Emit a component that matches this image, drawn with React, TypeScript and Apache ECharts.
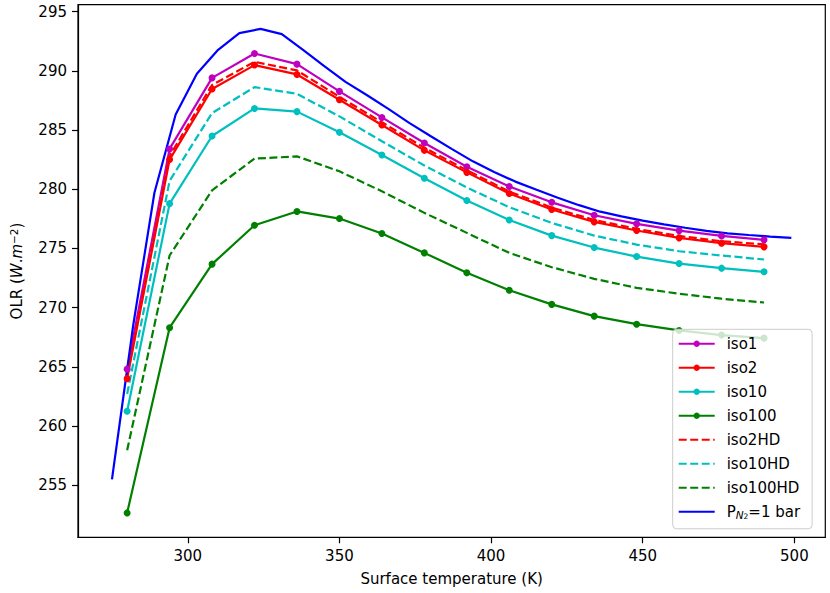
import React, { useEffect, useRef } from "react";
import * as echarts from "echarts";

const isoTemps = [280, 294, 308, 322, 336, 350, 364, 378, 392, 406, 420, 434, 448, 462, 476, 490];
const iso1 = [264.8, 283.4, 289.4, 291.46, 290.56, 288.26, 286.06, 283.9, 281.9, 280.22, 278.89, 277.8, 277.07, 276.5, 276.05, 275.72];
const iso2 = [264.0, 282.5, 288.46, 290.48, 289.69, 287.55, 285.42, 283.28, 281.42, 279.63, 278.28, 277.24, 276.51, 275.89, 275.44, 275.13];
const iso10 = [261.25, 278.78, 284.49, 286.82, 286.55, 284.8, 282.89, 280.92, 279.04, 277.4, 276.08, 275.07, 274.31, 273.72, 273.33, 273.02];
const iso100 = [252.66, 268.3, 273.67, 276.95, 278.12, 277.52, 276.25, 274.62, 272.94, 271.47, 270.27, 269.28, 268.6, 268.07, 267.68, 267.42];
const iso2HD = [264.3, 282.8, 288.8, 290.76, 290.03, 287.8, 285.65, 283.5, 281.6, 279.8, 278.45, 277.4, 276.65, 276.05, 275.6, 275.35];
const iso10HD = [262.7, 280.7, 286.43, 288.62, 288.05, 286.15, 284.05, 282.0, 280.14, 278.48, 277.15, 276.08, 275.32, 274.76, 274.4, 274.06];
const iso100HD = [257.95, 274.4, 279.9, 282.58, 282.77, 281.51, 279.82, 278.0, 276.31, 274.62, 273.41, 272.43, 271.67, 271.17, 270.75, 270.43];

const pn2Temps = [275, 282, 289, 296, 303, 310, 317, 324, 331, 338, 345, 352, 359, 366, 373, 380, 387, 394, 401, 408, 415, 422, 429, 436, 443, 450, 457, 464, 471, 478, 485, 492, 499];
const pn2 = [255.5, 268.5, 279.7, 286.3, 289.75, 291.77, 293.18, 293.54, 293.1, 291.77, 290.4, 289.06, 287.95, 286.8, 285.6, 284.49, 283.4, 282.35, 281.45, 280.64, 279.95, 279.27, 278.65, 278.1, 277.7, 277.34, 277.03, 276.74, 276.48, 276.27, 276.13, 276.0, 275.89];

const xTicks = [300, 350, 400, 450, 500];
const yTicks = [255, 260, 265, 270, 275, 280, 285, 290, 295];

const PN2_NAME = "PN2=1 bar";
const FONT = "DejaVu Sans";

function pairs(xs: number[], ys: number[]) {
  return xs.map((x, i) => [x, ys[i]]);
}

function series(name: string, color: string, xs: number[], ys: number[], dashed: boolean, marker: boolean) {
  return {
    name,
    type: "line",
    data: pairs(xs, ys),
    symbol: marker ? "circle" : "none",
    symbolSize: 7,
    showSymbol: marker,
    color,
    itemStyle: { color },
    lineStyle: { color, width: 2.2, type: dashed ? [8, 3.5] : "solid" },
    emphasis: { disabled: true },
  };
}

export default function App() {
  const ref = useRef<HTMLDivElement>(null);
  useEffect(() => {
    document.body.style.margin = "0";
    const chart = echarts.init(ref.current!, null, { renderer: "svg" });
    const hidden = { opacity: 0 };
    chart.setOption({
      animation: false,
      textStyle: { fontFamily: FONT },
      grid: {
        left: 74,
        right: 4.7,
        top: 4.7,
        bottom: 55.7,
        show: true,
        borderColor: "#000",
        borderWidth: 1.2,
        backgroundColor: "transparent",
      },
      xAxis: {
        type: "value",
        min: 263.8,
        max: 510.2,
        name: "Surface temperature (K)",
        nameLocation: "middle",
        nameGap: 34,
        nameTextStyle: { fontFamily: FONT, fontSize: 15, color: "#000" },
        axisLine: { show: true, lineStyle: { color: "#000", width: 1.2 } },
        axisTick: { show: true, length: 6, lineStyle: { color: "#000", width: 1.2 }, customValues: xTicks },
        axisLabel: { fontFamily: FONT, fontSize: 15, color: "#000", margin: 11, customValues: xTicks },
        splitLine: { show: false },
      },
      yAxis: {
        type: "value",
        min: 250.6,
        max: 295.58,
        name: "OLR ({it|W}.{it|m}{sup|−2})",
        nameLocation: "middle",
        nameGap: 52,
        nameTextStyle: {
          fontFamily: FONT,
          fontSize: 15,
          color: "#000",
          rich: {
            it: { fontFamily: FONT, fontSize: 15, fontStyle: "italic", color: "#000" },
            sup: { fontFamily: FONT, fontSize: 10.5, color: "#000", verticalAlign: "top", padding: [0, 0, 7, 0] },
          },
        },
        axisLine: { show: true, lineStyle: { color: "#000", width: 1.2 } },
        axisTick: { show: true, length: 6, lineStyle: { color: "#000", width: 1.2 }, customValues: yTicks },
        axisLabel: { fontFamily: FONT, fontSize: 15, color: "#000", margin: 11, customValues: yTicks },
        splitLine: { show: false },
      },
      legend: {
        orient: "vertical",
        left: 672.7,
        top: 329.3,
        padding: [7, 12, 8, 5],
        itemWidth: 36,
        itemHeight: 8,
        itemGap: 9,
        backgroundColor: "rgba(255,255,255,0.8)",
        borderColor: "#cccccc",
        borderWidth: 1,
        borderRadius: 4,
        textStyle: {
          fontFamily: FONT,
          fontSize: 15,
          color: "#000",
          padding: [0, 0, 0, 7],
          rich: {
            sub: { fontFamily: FONT, fontSize: 10.5, fontStyle: "italic", color: "#000", verticalAlign: "bottom", padding: [7, 0, 0, 0] },
            sub2: { fontFamily: FONT, fontSize: 7.5, color: "#000", verticalAlign: "bottom", padding: [10, 0, 0, 0] },
          },
        },
        formatter: (name: string) => (name === PN2_NAME ? "P{sub|N}{sub2|2}=1 bar" : name),
        data: [
          { name: "iso1" },
          { name: "iso2" },
          { name: "iso10" },
          { name: "iso100" },
          { name: "iso2HD", itemStyle: hidden },
          { name: "iso10HD", itemStyle: hidden },
          { name: "iso100HD", itemStyle: hidden },
          { name: PN2_NAME, itemStyle: hidden },
        ],
      },
      series: [
        series("iso1", "#bf00bf", isoTemps, iso1, false, true),
        series("iso2", "#ff0000", isoTemps, iso2, false, true),
        series("iso10", "#00bfbf", isoTemps, iso10, false, true),
        series("iso100", "#008000", isoTemps, iso100, false, true),
        series("iso2HD", "#ff0000", isoTemps, iso2HD, true, false),
        series("iso10HD", "#00bfbf", isoTemps, iso10HD, true, false),
        series("iso100HD", "#008000", isoTemps, iso100HD, true, false),
        series(PN2_NAME, "#0000ff", pn2Temps, pn2, false, false),
      ],
    });
    return () => chart.dispose();
  }, []);
  return <div ref={ref} style={{ width: 830, height: 593 }} />;
}
